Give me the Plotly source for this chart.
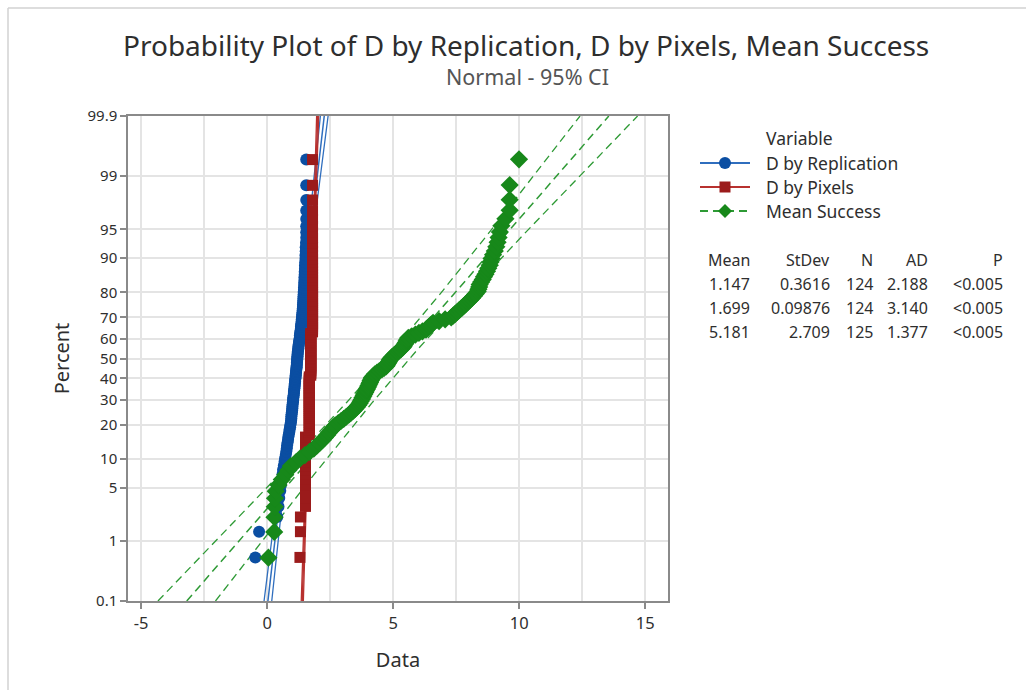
import plotly.graph_objects as go
from statistics import NormalDist

replication = [
    -0.47, -0.32, 0.40, 0.45, 0.48, 0.52, 0.55, 0.58,
    0.61, 0.63, 0.66, 0.69, 0.71, 0.74,
    0.76, 0.78, 0.79, 0.81, 0.83, 0.84, 0.86, 0.88, 0.89, 0.91, 0.92, 0.94,
    0.95, 0.96, 0.96, 0.97, 0.98, 0.99, 1.00, 1.00, 1.01, 1.02, 1.03, 1.03,
    1.04, 1.05, 1.06, 1.06, 1.07, 1.08,
    1.09, 1.09, 1.10, 1.11, 1.11, 1.12, 1.13, 1.13, 1.14, 1.15, 1.15, 1.16,
    1.17, 1.17, 1.18, 1.18, 1.19, 1.19, 1.20, 1.20,
    1.21, 1.21, 1.22, 1.23, 1.24, 1.24, 1.25, 1.26,
    1.27, 1.28, 1.29, 1.30, 1.30, 1.31, 1.32, 1.33, 1.34, 1.34, 1.35, 1.36,
    1.37, 1.37, 1.38, 1.39, 1.39, 1.40, 1.41,
    1.41, 1.42, 1.42, 1.43, 1.43, 1.44, 1.44, 1.45, 1.45, 1.46, 1.46, 1.47,
    1.47, 1.48, 1.48,
    1.49, 1.49, 1.50, 1.50, 1.51, 1.52, 1.52, 1.53, 1.53, 1.54,
    1.55, 1.55, 1.55, 1.55, 1.55, 1.55, 1.55, 1.55,
]

pixels = (
    [1.30, 1.32, 1.32]
    + [1.52] * 17
    + [1.67] * 31
    + [1.73] * 27
    + [1.80] * 46
)

mean_success = [
    0.05, 0.28, 0.29, 0.30, 0.31, 0.34, 0.45, 0.58, 0.72, 0.84, 0.94, 1.15, 1.30,
    1.50, 1.68, 1.85, 1.97, 2.08, 2.20, 2.29, 2.38, 2.46, 2.54, 2.62, 2.70,
    2.82, 2.93, 3.04, 3.14, 3.24, 3.33, 3.42, 3.49, 3.56, 3.62, 3.67, 3.71,
    3.75, 3.78, 3.82, 3.85, 3.89, 3.92, 3.96, 3.99, 4.02, 4.05, 4.08, 4.10, 4.13, 4.16,
    4.22, 4.27, 4.36, 4.45, 4.55, 4.64, 4.72, 4.76, 4.79, 4.83, 4.86, 4.90,
    4.96, 5.03, 5.10, 5.17, 5.24, 5.31, 5.38, 5.42, 5.46, 5.50, 5.53, 5.56, 5.60,
    5.74, 5.88, 6.02, 6.16, 6.30, 6.37, 6.44, 6.51, 6.58, 6.82, 7.06, 7.30,
    7.38, 7.46, 7.54, 7.62, 7.71, 7.79, 7.87, 7.95, 8.04, 8.12, 8.20, 8.27, 8.35,
    8.38, 8.41, 8.43, 8.49, 8.55, 8.60, 8.66, 8.72, 8.77, 8.83, 8.86, 8.90,
    8.96, 9.03, 9.09, 9.14, 9.18, 9.23, 9.29, 9.45, 9.62, 9.62, 9.62, 9.99,
]

series_names = ["D by Replication", "D by Pixels", "Mean Success"]
stat_mean = [1.147, 1.699, 5.181]
stat_sd = [0.3616, 0.09876, 2.709]
stat_n = [124, 124, 125]
table_mean = ["1.147", "1.699", "5.181"]
table_sd = ["0.3616", "0.09876", "2.709"]
table_ad = ["2.188", "3.140", "1.377"]
table_p = ["<0.005", "<0.005", "<0.005"]

pct_ticks = [0.1, 1, 5, 10, 20, 30, 40, 50, 60, 70, 80, 90, 95, 99, 99.9]
pct_labels = ["0.1", "1", "5", "10", "20", "30", "40", "50", "60", "70", "80",
              "90", "95", "99", "99.9"]
x_ticks = [-5, 0, 5, 10, 15]

# ---------------- styling ----------------
FONT = "Noto Sans"
marker_colors = ["#0B4EA2", "#9B1B1B", "#17881A"]
line_colors = ["#2F6EBE", "#B8312F", "#2E9A35"]
symbols = ["circle", "square", "diamond"]
msizes = [12, 11, 14]
line_dash = ["solid", "solid", "8px,5px"]

ND = NormalDist()
ZLIM = ND.inv_cdf(0.999)

W, H = 1026, 690
L, R, T, B = 128, 358, 116, 89
PW, PH = W - L - R, H - T - B


def px(xp):
    return (xp - L) / PW


def py(yp):
    return (H - B - yp) / PH


fig = go.Figure()
series = [replication, pixels, mean_success]

# fitted lines and 95% CI (drawn first)
nz = 121
zgrid = [-ZLIM + 2 * ZLIM * k / (nz - 1) for k in range(nz)]
zc = ND.inv_cdf(0.975)
for s in range(3):
    mu, sd, n = stat_mean[s], stat_sd[s], stat_n[s]
    fit = [mu + sd * z for z in zgrid]
    half = [zc * sd * (1.0 / n + z * z / (2.0 * n)) ** 0.5 for z in zgrid]
    for xs, w in (([f - h for f, h in zip(fit, half)], 1.3),
                  ([f + h for f, h in zip(fit, half)], 1.3),
                  (fit, 1.5)):
        fig.add_trace(go.Scatter(
            x=xs, y=zgrid, mode="lines", showlegend=False, hoverinfo="skip",
            line=dict(color=line_colors[s], width=w, dash=line_dash[s])))

# data points
for s in range(3):
    vals = sorted(series[s])
    n = len(vals)
    zs = [ND.inv_cdf((i + 1 - 0.3) / (n + 0.4)) for i in range(n)]
    fig.add_trace(go.Scatter(
        x=vals, y=zs, mode="markers", name=series_names[s], showlegend=False,
        marker=dict(symbol=symbols[s], size=msizes[s], color=marker_colors[s],
                    line=dict(width=0))))

grid_col = "#E4E4E4"
frame_col = "#8A8A8A"
txt = "#2E2E2E"

fig.update_layout(
    width=W, height=H,
    margin=dict(l=L, r=R, t=T, b=B, pad=0),
    paper_bgcolor="white", plot_bgcolor="white",
    font=dict(family=FONT, size=14, color=txt),
    showlegend=False,
    xaxis=dict(range=[-5.52, 15.9], tickmode="array", tickvals=x_ticks,
               ticktext=[str(v) for v in x_ticks],
               showgrid=True, gridcolor=grid_col, gridwidth=1.5,
               minor=dict(tickmode="array", tickvals=[-2.5, 2.5, 7.5, 12.5],
                          showgrid=True, gridcolor=grid_col, gridwidth=1.5,
                          ticks=""),
               zeroline=False, showline=True, mirror=True, linecolor=frame_col,
               linewidth=1.5, ticks="outside", ticklen=6, tickcolor=frame_col,
               tickwidth=1.5, tickfont=dict(size=16.5, color=txt),
               title=dict(text="Data", font=dict(size=20, color=txt), standoff=20)),
    yaxis=dict(range=[-ZLIM, ZLIM], tickmode="array",
               tickvals=[ND.inv_cdf(p / 100.0) for p in pct_ticks],
               ticktext=pct_labels,
               showgrid=True, gridcolor=grid_col, gridwidth=1.5,
               zeroline=False, showline=True, mirror=True, linecolor=frame_col,
               linewidth=1.5, ticks="outside", ticklen=6, tickcolor=frame_col,
               tickwidth=1.5, tickfont=dict(size=15, color=txt),
               title=dict(text="Percent", font=dict(size=20, color=txt), standoff=12)),
)

ann = []
ann.append(dict(text="Probability Plot of D by Replication, D by Pixels, Mean Success",
                x=px(526), y=py(45), xref="paper", yref="paper", showarrow=False,
                xanchor="center", yanchor="middle",
                font=dict(size=28, color="#2E2E2E", family=FONT)))
ann.append(dict(text="Normal - 95% CI", x=px(527), y=py(76), xref="paper", yref="paper",
                showarrow=False, xanchor="center", yanchor="middle",
                font=dict(size=21.5, color="#555555", family=FONT)))

LEG_FS = 17.5
ann.append(dict(text="Variable", x=px(764), y=py(138), xref="paper", yref="paper",
                showarrow=False, xanchor="left", yanchor="middle",
                font=dict(size=LEG_FS, color=txt)))

shapes = []
leg_y = [163, 187, 211]
for s in range(3):
    yy = leg_y[s]
    ann.append(dict(text=series_names[s], x=px(764), y=py(yy), xref="paper", yref="paper",
                    showarrow=False, xanchor="left", yanchor="middle",
                    font=dict(size=LEG_FS, color=txt)))
    shapes.append(dict(type="line", xref="paper", yref="paper",
                       x0=px(700), x1=px(750), y0=py(yy), y1=py(yy),
                       line=dict(color=line_colors[s], width=2, dash=line_dash[s])))
    cx = 725
    if s == 0:
        shapes.append(dict(type="circle", xref="paper", yref="paper",
                           x0=px(cx - 6), x1=px(cx + 6), y0=py(yy - 6), y1=py(yy + 6),
                           fillcolor=marker_colors[s], line=dict(width=0)))
    elif s == 1:
        shapes.append(dict(type="rect", xref="paper", yref="paper",
                           x0=px(cx - 5.5), x1=px(cx + 5.5), y0=py(yy - 5.5), y1=py(yy + 5.5),
                           fillcolor=marker_colors[s], line=dict(width=0)))
    else:
        d = 7
        path = "M {} {} L {} {} L {} {} L {} {} Z".format(
            px(cx), py(yy - d), px(cx + d), py(yy), px(cx), py(yy + d), px(cx - d), py(yy))
        shapes.append(dict(type="path", xref="paper", yref="paper", path=path,
                           fillcolor=marker_colors[s], line=dict(width=0)))

col_right = [752, 832, 875, 930, 1005]
headers = ["Mean", "StDev", "N", "AD", "P"]
row_y = [260, 284, 308, 332]
for c, h in enumerate(headers):
    ann.append(dict(text=h, x=px(col_right[c]), y=py(row_y[0]), xref="paper", yref="paper",
                    showarrow=False, xanchor="right", yanchor="middle",
                    font=dict(size=16, color=txt)))
for r in range(3):
    cells = [table_mean[r], table_sd[r], str(stat_n[r]), table_ad[r], table_p[r]]
    for c, v in enumerate(cells):
        ann.append(dict(text=v, x=px(col_right[c]), y=py(row_y[r + 1]), xref="paper",
                        yref="paper", showarrow=False, xanchor="right", yanchor="middle",
                        font=dict(size=16, color=txt)))

# outer window border (top and left)
shapes.append(dict(type="line", xref="paper", yref="paper", x0=px(8), x1=px(1026),
                   y0=py(8), y1=py(8), line=dict(color="#D2D2D2", width=1.5)))
shapes.append(dict(type="line", xref="paper", yref="paper", x0=px(8), x1=px(8),
                   y0=py(8), y1=py(690), line=dict(color="#D2D2D2", width=1.5)))

fig.update_layout(annotations=ann, shapes=shapes)

fig.write_html("out.html")
